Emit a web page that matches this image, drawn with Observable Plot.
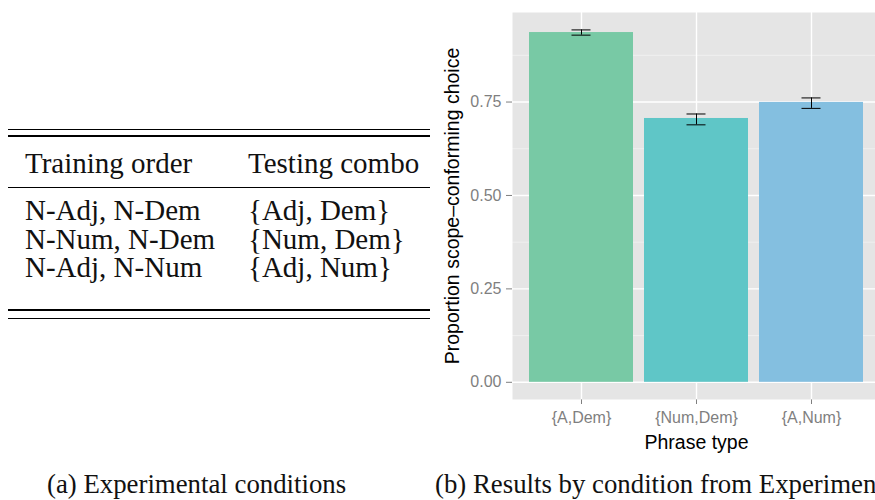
<!DOCTYPE html>
<html>
<head>
<meta charset="utf-8">
<script src="https://cdn.jsdelivr.net/npm/d3@7"></script>
<script src="https://cdn.jsdelivr.net/npm/@observablehq/plot@0.6"></script>
<style>
  html, body { margin: 0; padding: 0; overflow: hidden; background: #fff; width: 875px; height: 500px; }
  .abs { position: absolute; white-space: nowrap; }
  .serif { font-family: "Liberation Serif", "Times New Roman", serif; color: #111; line-height: 0.9; }
  .rule { position: absolute; left: 8px; width: 422px; background: #000; }
  #chart { position: absolute; left: 430px; top: 0px; width: 450px; height: 460px; }
  #chart svg { font-family: "Liberation Sans", Arial, sans-serif; overflow: visible; max-width: none; width: 450px; height: 460px; }
  #chart svg [aria-label^="y-axis"] text, #chart svg [aria-label^="x-axis"] text { fill: #7f7f7f; font-size: 16px; }
  #chart svg [aria-label^="y-axis"] line, #chart svg [aria-label^="x-axis"] line,
  #chart svg [aria-label^="y-axis"] path, #chart svg [aria-label^="x-axis"] path { stroke: #7f7f7f; }
</style>
</head>
<body>
<div id="table"></div>
<div id="chart"></div>
<div class="abs serif" id="capA" style="left:47px; top:471.9px; font-size:26.8px;"></div>
<div class="abs serif" id="capB" style="left:435px; top:471.9px; font-size:26.8px;"></div>
<script>
// ---- data ----
const tableHeaders = ["Training order", "Testing combo"];
const trainingOrder = ["N-Adj, N-Dem", "N-Num, N-Dem", "N-Adj, N-Num"];
const testingCombo = ["{Adj, Dem}", "{Num, Dem}", "{Adj, Num}"];

const phraseTypes = ["{A,Dem}", "{Num,Dem}", "{A,Num}"];
const proportions = [0.936, 0.706, 0.749];
const errLow = [0.929, 0.689, 0.733];
const errHigh = [0.943, 0.718, 0.761];
const barColors = ["#78C9A5", "#5FC6C7", "#84BFE0"];
const yTicks = [0, 0.25, 0.5, 0.75];
const yMinorTicks = [0.125, 0.375, 0.625, 0.875];
const yLabel = "Proportion scope\u2013conforming choice";
const xLabel = "Phrase type";
const captionA = "(a) Experimental conditions";
const captionB = "(b) Results by condition from Experiment 1";

// ---- table (a) ----
const BASE = 0.7875; // baseline offset (em) for line-height 0.9
const tbl = document.getElementById("table");
function addText(txt, x, baseline, size) {
  const d = document.createElement("div");
  d.className = "abs serif";
  d.textContent = txt;
  d.style.left = x + "px";
  d.style.fontSize = size + "px";
  d.style.top = (baseline - BASE * size) + "px";
  tbl.appendChild(d);
}
function addRule(y, h) {
  const r = document.createElement("div");
  r.className = "rule";
  r.style.top = y + "px";
  r.style.height = h + "px";
  tbl.appendChild(r);
}
const fs = 29;
addRule(128.5, 1.2);
addRule(134.8, 2);
addText(tableHeaders[0], 25, 173, fs);
addText(tableHeaders[1], 248, 173, fs);
addRule(187.2, 1.2);
const baselines = [220, 248.5, 277];
trainingOrder.forEach((t, i) => {
  addText(t, 25, baselines[i], fs);
  addText(testingCombo[i], 248, baselines[i], fs);
});
addRule(309, 2);
addRule(317.5, 1.2);

document.getElementById("capA").textContent = captionA;
document.getElementById("capB").textContent = captionB;

// ---- chart (b) ----
const data = phraseTypes.map((p, i) => ({
  phrase: p, value: proportions[i], lo: errLow[i], hi: errHigh[i]
}));

const chart = Plot.plot({
  width: 450,
  height: 460,
  marginLeft: 82,
  marginRight: 0,
  marginTop: 12,
  marginBottom: 61,
  style: { background: "transparent", fontFamily: "Liberation Sans, Arial, sans-serif" },
  x: {
    domain: phraseTypes,
    paddingInner: 0.0957,
    paddingOuter: 0.1478,
    tickSize: 5,
    tickPadding: 7,
    label: null
  },
  y: {
    domain: [-0.046, 0.9896],
    ticks: yTicks,
    tickFormat: d3.format(".2f"),
    tickSize: 6,
    tickPadding: 5,
    label: null
  },
  color: { domain: phraseTypes, range: barColors },
  marks: [
    Plot.frame({ fill: "#E5E5E5", stroke: "none" }),
    Plot.ruleY(yMinorTicks, { stroke: "#ffffff", strokeWidth: 0.6, strokeOpacity: 0.7 }),
    Plot.ruleY(yTicks, { stroke: "#ffffff", strokeWidth: 1.4 }),
    Plot.ruleX(phraseTypes, { stroke: "#ffffff", strokeWidth: 1.4 }),
    Plot.barY(data, { x: "phrase", y: "value", fill: "phrase" }),
    Plot.ruleX(data, { x: "phrase", y1: "lo", y2: "hi", stroke: "#000", strokeWidth: 1 }),
    Plot.tickY(data, { x: "phrase", y: "lo", stroke: "#000", strokeWidth: 1, insetLeft: 42.5, insetRight: 42.5 }),
    Plot.tickY(data, { x: "phrase", y: "hi", stroke: "#000", strokeWidth: 1, insetLeft: 42.5, insetRight: 42.5 }),
    Plot.text([yLabel], { text: d => d, frameAnchor: "left", textAnchor: "middle", rotate: -90, dx: -60, fontSize: 19.5, fill: "#000" }),
    Plot.text([xLabel], { text: d => d, frameAnchor: "bottom", textAnchor: "middle", dy: 49, fontSize: 19.5, fill: "#000" })
  ]
});
document.getElementById("chart").appendChild(chart);
</script>
</body>
</html>
